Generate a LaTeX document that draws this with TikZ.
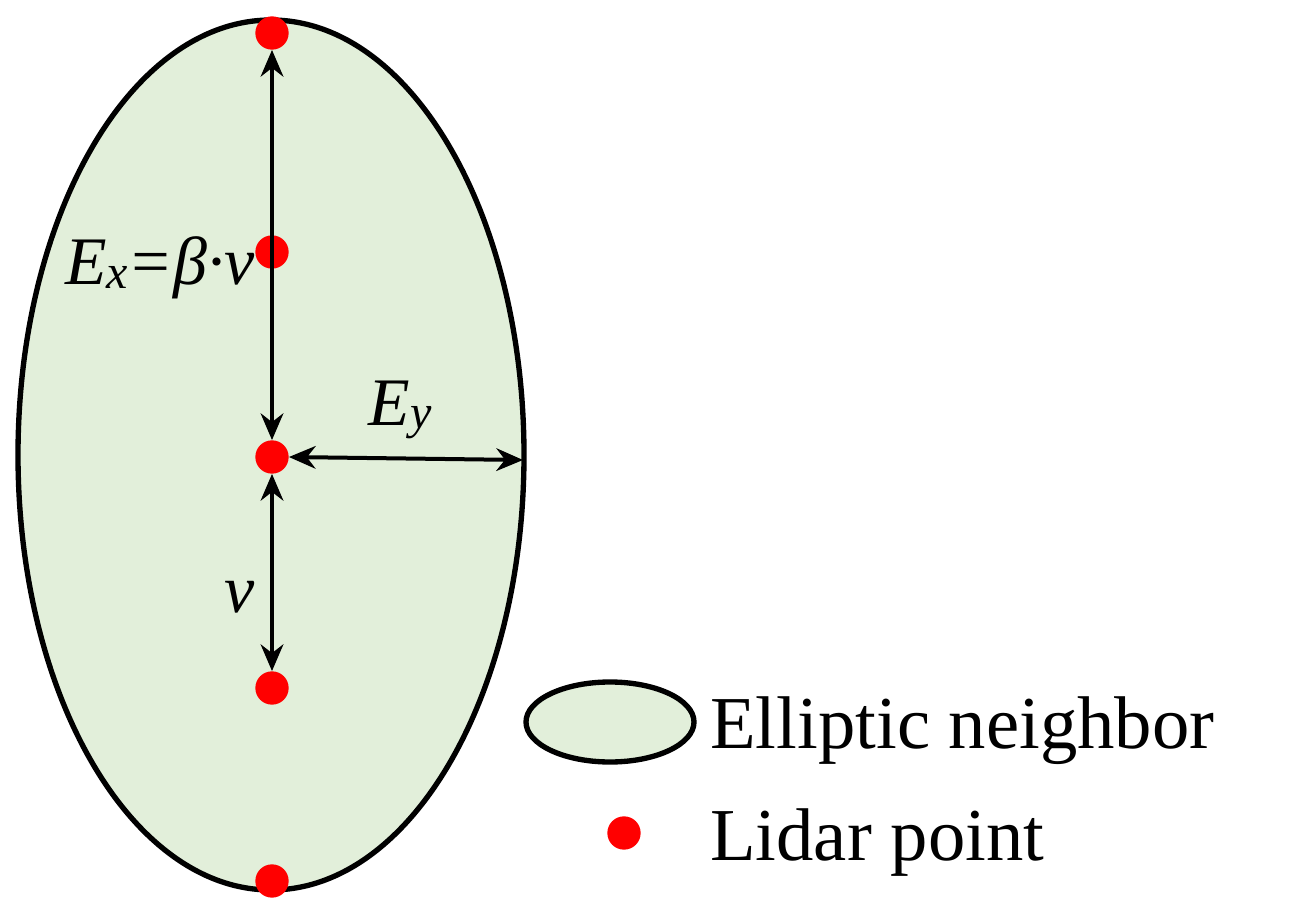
\documentclass[tikz,border=0pt]{standalone}
\usepackage{fontspec}
\setmainfont{Liberation Serif}
\usetikzlibrary{arrows.meta,shapes.geometric}
\begin{document}
\begin{tikzpicture}[x=0.75pt,y=-0.75pt,
  dot/.style={circle,fill=red,inner sep=0pt,minimum size=25pt},
  arr/.style={line width=3pt,{Stealth[length=20pt,width=17pt]}-{Stealth[length=20pt,width=17pt]}},
  lbl/.style={font=\fontsize{51}{51}\selectfont\itshape,inner sep=0pt}]
\path[use as bounding box] (0,0) rectangle (1296,916);
\draw[line width=4pt,fill={rgb,255:red,226;green,239;blue,218}] (271,455) ellipse [x radius=253,y radius=435];
\node[dot] (p1) at (272,33) {};
\node[dot] (p2) at (272,252) {};
\node[dot] (p3) at (272,457) {};
\node[dot] (p4) at (272,688) {};
\node[dot] (p5) at (272,881) {};
\coordinate (er) at (523,460);
\draw[arr] (p1.south) -- (p3.north);
\draw[arr] (p3.south) -- (p4.north);
\draw[arr] (p3.east) -- (er);
\node[lbl,anchor=base] at (160,285) {E\raisebox{-0.05em}{\fontsize{36}{36}\selectfont x}=β·v};
\node[lbl,anchor=base] at (400,425) {E\raisebox{-0.05em}{\fontsize{36}{36}\selectfont y}};
\node[lbl,anchor=base] at (240,612) {v};
\node[draw,line width=4pt,ellipse,fill={rgb,255:red,226;green,239;blue,218},minimum width=126pt,minimum height=60pt,inner sep=0pt] (le) at (610,722) {};
\node[dot] (ld) at (624,833) {};
\node[anchor=base west,font=\fontsize{56}{56}\selectfont,inner sep=0pt] at (710,748) {Elliptic neighbor};
\node[anchor=base west,font=\fontsize{56}{56}\selectfont,inner sep=0pt] at (710,860) {Lidar point};
\end{tikzpicture}
\end{document}
